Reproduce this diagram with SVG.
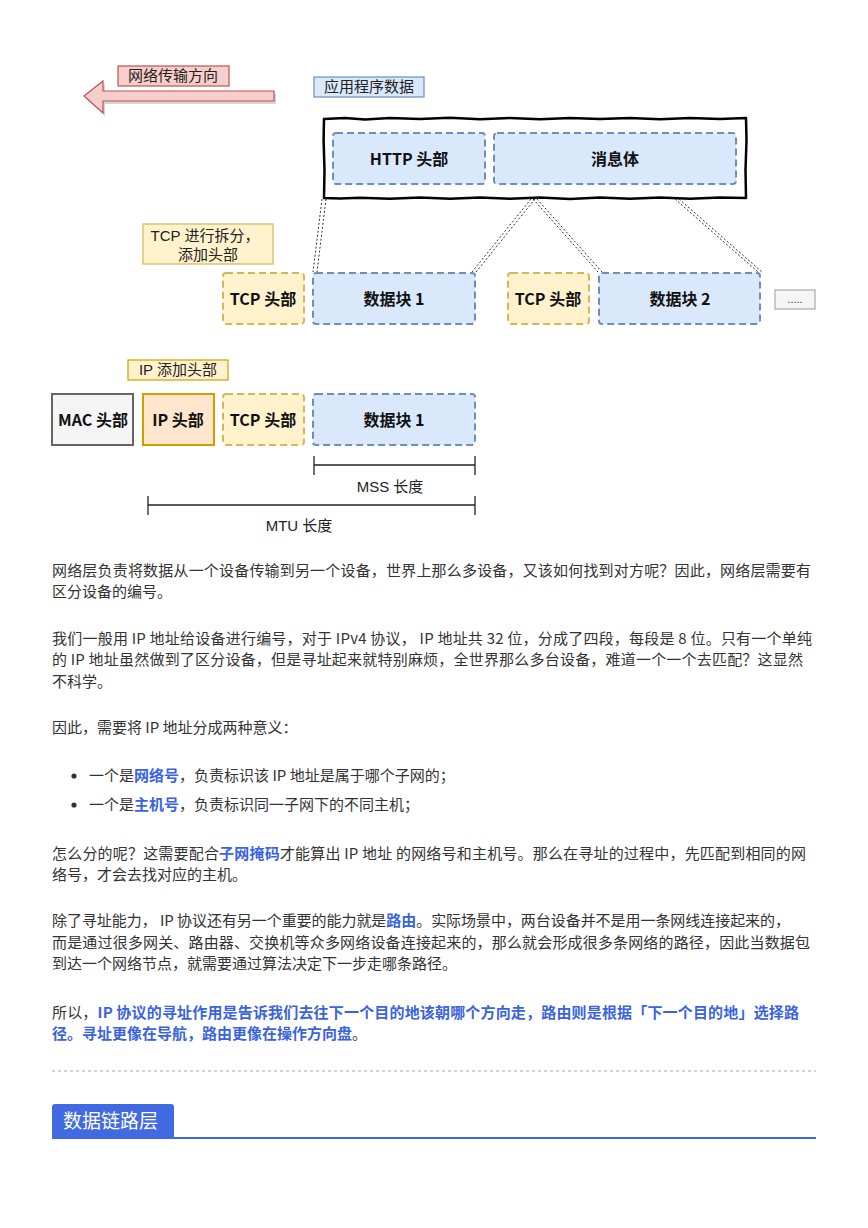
<svg xmlns="http://www.w3.org/2000/svg" width="868" height="1228" viewBox="0 0 868 1228">
<style>
.lbl{font-family:"Liberation Sans","Noto Sans CJK SC",sans-serif;font-size:15px;fill:#222;text-anchor:middle}
.nt{font-family:"Noto Sans CJK SC",sans-serif;font-size:16px;font-weight:700;fill:#111;text-anchor:middle}
.blue{fill:#dae8fc;stroke:#6c8ebf;stroke-width:2;stroke-dasharray:7 4}
.yel{fill:#fff2cc;stroke:#d6b656;stroke-width:2;stroke-dasharray:7 4}
.body{font-family:"Noto Sans CJK SC","Liberation Sans",sans-serif;font-size:15px;fill:#333}
.hl{fill:#3a63e0;font-weight:700}
.dot{stroke:#333;stroke-width:1;stroke-dasharray:2 2}
.br{stroke:#222;stroke-width:1.3}
</style>
<rect width="868" height="1228" fill="#fff"/>

<g id="arrow">
  <polygon points="86,99 105,84 105,94 276,94 276,104 105,104 105,116" fill="#bbb" opacity="0.6"/>
  <polygon points="84,96 103,81 103,91 274,91 274,101 103,101 103,113" fill="#f8cecc" stroke="#b85450" stroke-width="1.2"/>
</g>
<g id="label-direction">
  <rect x="118" y="66" width="111" height="20" fill="#f8cecc" stroke="#b85450" stroke-width="1.2"/>
  <text class="lbl" x="173" y="81">网络传输方向</text>
</g>
<g id="label-app">
  <rect x="314" y="77" width="110" height="20" fill="#dae8fc" stroke="#6c8ebf" stroke-width="1.2"/>
  <text class="lbl" x="369" y="92">应用程序数据</text>
</g>

<g id="app-data">
  <path d="M324,119 L345,118 L365,119.5 L390,118 L420,119 L450,117.8 L480,119.2 L510,118 L540,119.3 L570,117.9 L600,119 L630,118 L660,119.3 L690,118 L720,119 L746,118 L746.5,140 L745.5,170 L746,198 L720,197.5 L690,198.8 L660,197.6 L630,198.7 L600,197.5 L570,198.9 L540,197.6 L510,198.8 L480,197.5 L450,198.7 L420,197.6 L390,198.8 L360,197.7 L340,198.6 L324,198 L324.5,170 L323.6,140 Z" fill="#fff" stroke="#000" stroke-width="2.5" stroke-linejoin="round"/>
</g>
<g id="http-header">
  <rect class="blue" x="333" y="133" width="152" height="51" rx="3"/>
  <text class="nt" x="409" y="165">HTTP 头部</text>
</g>
<g id="message-body">
  <rect class="blue" x="494" y="133" width="242" height="51" rx="3"/>
  <text class="nt" x="615" y="165">消息体</text>
</g>

<g id="connectors">
  <g class="dot">
    <line x1="322" y1="199" x2="313" y2="272"/>
    <line x1="326" y1="199" x2="317" y2="272"/>
    <line x1="531" y1="199" x2="472" y2="272"/>
    <line x1="535" y1="199" x2="476" y2="272"/>
    <line x1="533" y1="199" x2="598" y2="272"/>
    <line x1="537" y1="199" x2="602" y2="272"/>
    <line x1="675" y1="199" x2="758" y2="272"/>
    <line x1="679" y1="199" x2="762" y2="272"/>
  </g>
  <g class="br">
    <line x1="314" y1="465" x2="475" y2="465"/>
    <line x1="314" y1="456" x2="314" y2="475"/>
    <line x1="475" y1="456" x2="475" y2="475"/>
    <line x1="148" y1="505" x2="475" y2="505"/>
    <line x1="148" y1="496" x2="148" y2="515"/>
    <line x1="475" y1="496" x2="475" y2="515"/>
  </g>
</g>

<g id="label-tcp">
  <rect x="143" y="224" width="130" height="40" fill="#fff2cc" stroke="#d6b656" stroke-width="1.2"/>
  <text class="lbl" x="205" y="241">TCP 进行拆分，</text>
  <text class="lbl" x="208" y="260">添加头部</text>
</g>

<g id="tcp-header-1">
  <rect class="yel" x="223" y="273" width="81" height="51" rx="3"/>
  <text class="nt" x="263" y="305">TCP 头部</text>
</g>
<g id="data-block-1">
  <rect class="blue" x="313" y="273" width="162" height="51" rx="3"/>
  <text class="nt" x="394" y="305">数据块 1</text>
</g>
<g id="tcp-header-2">
  <rect class="yel" x="508" y="273" width="81" height="51" rx="3"/>
  <text class="nt" x="548" y="305">TCP 头部</text>
</g>
<g id="data-block-2">
  <rect class="blue" x="599" y="273" width="161" height="51" rx="3"/>
  <text class="nt" x="680" y="305">数据块 2</text>
</g>
<g id="more">
  <rect x="775" y="290" width="40" height="19" fill="#f5f5f5" stroke="#999" stroke-width="1"/>
  <text x="795" y="303" font-family="Liberation Sans,sans-serif" font-size="11" fill="#333" text-anchor="middle">.....</text>
</g>

<g id="label-ip">
  <rect x="128" y="360" width="100" height="20" fill="#fff2cc" stroke="#d79b00" stroke-width="1.2"/>
  <text class="lbl" x="178" y="375">IP 添加头部</text>
</g>

<g id="mac-header">
  <rect x="52" y="394" width="81" height="51" fill="#f5f5f5" stroke="#666" stroke-width="2"/>
  <text class="nt" x="93" y="426">MAC 头部</text>
</g>
<g id="ip-header">
  <rect x="143" y="394" width="71" height="51" fill="#ffe6cc" stroke="#d79b00" stroke-width="2"/>
  <text class="nt" x="178" y="426">IP 头部</text>
</g>
<g id="tcp-header-3">
  <rect class="yel" x="223" y="394" width="81" height="51" rx="3"/>
  <text class="nt" x="263" y="426">TCP 头部</text>
</g>
<g id="data-block-3">
  <rect class="blue" x="313" y="394" width="162" height="51" rx="3"/>
  <text class="nt" x="394" y="426">数据块 1</text>
</g>
<g id="length-labels">
  <text class="lbl" x="390" y="492">MSS 长度</text>
  <text class="lbl" x="299" y="531">MTU 长度</text>
</g>

<g id="text">
  <text class="body" x="52" y="576" textLength="759" lengthAdjust="spacing">网络层负责将数据从一个设备传输到另一个设备，世界上那么多设备，又该如何找到对方呢？因此，网络层需要有</text>
  <text class="body" x="52" y="597">区分设备的编号。</text>

  <text class="body" x="52" y="644" textLength="760" lengthAdjust="spacing">我们一般用 IP 地址给设备进行编号，对于 IPv4 协议， IP 地址共 32 位，分成了四段，每段是 8 位。只有一个单纯</text>
  <text class="body" x="52" y="665" textLength="751" lengthAdjust="spacing">的 IP 地址虽然做到了区分设备，但是寻址起来就特别麻烦，全世界那么多台设备，难道一个一个去匹配？这显然</text>
  <text class="body" x="52" y="687">不科学。</text>

  <text class="body" x="52" y="733">因此，需要将 IP 地址分成两种意义：</text>

  <circle cx="74" cy="776" r="2.6" fill="#333"/>
  <text class="body" x="89" y="781">一个是<tspan class="hl">网络号</tspan>，负责标识该 IP 地址是属于哪个子网的；</text>
  <circle cx="74" cy="805" r="2.6" fill="#333"/>
  <text class="body" x="89" y="810">一个是<tspan class="hl">主机号</tspan>，负责标识同一子网下的不同主机；</text>

  <text class="body" x="52" y="859" textLength="754" lengthAdjust="spacing">怎么分的呢？这需要配合<tspan class="hl">子网掩码</tspan>才能算出 IP 地址 的网络号和主机号。那么在寻址的过程中，先匹配到相同的网</text>
  <text class="body" x="52" y="880">络号，才会去找对应的主机。</text>

  <text class="body" x="52" y="926" textLength="738" lengthAdjust="spacing">除了寻址能力， IP 协议还有另一个重要的能力就是<tspan class="hl">路由</tspan>。实际场景中，两台设备并不是用一条网线连接起来的，</text>
  <text class="body" x="52" y="948" textLength="758" lengthAdjust="spacing">而是通过很多网关、路由器、交换机等众多网络设备连接起来的，那么就会形成很多条网络的路径，因此当数据包</text>
  <text class="body" x="52" y="969">到达一个网络节点，就需要通过算法决定下一步走哪条路径。</text>

  <text class="body" x="52" y="1018" textLength="747" lengthAdjust="spacing">所以，<tspan class="hl">IP 协议的寻址作用是告诉我们去往下一个目的地该朝哪个方向走，路由则是根据「下一个目的地」选择路</tspan></text>
  <text class="body" x="52" y="1039"><tspan class="hl">径。寻址更像在导航，路由更像在操作方向盘</tspan>。</text>
</g>

<g id="divider">
  <line x1="52" y1="1071" x2="816" y2="1071" stroke="#aaa" stroke-width="1" stroke-dasharray="3 3"/>
</g>
<g id="heading">
  <path d="M52,1137 L52,1107 Q52,1104 55,1104 L171,1104 Q174,1104 174,1107 L174,1137 Z" fill="#4169e1"/>
  <line x1="52" y1="1138" x2="816" y2="1138" stroke="#4169e1" stroke-width="2"/>
  <text x="63" y="1128" font-family="Noto Sans CJK SC,sans-serif" font-size="19" fill="#fff">数据链路层</text>
</g>
</svg>
